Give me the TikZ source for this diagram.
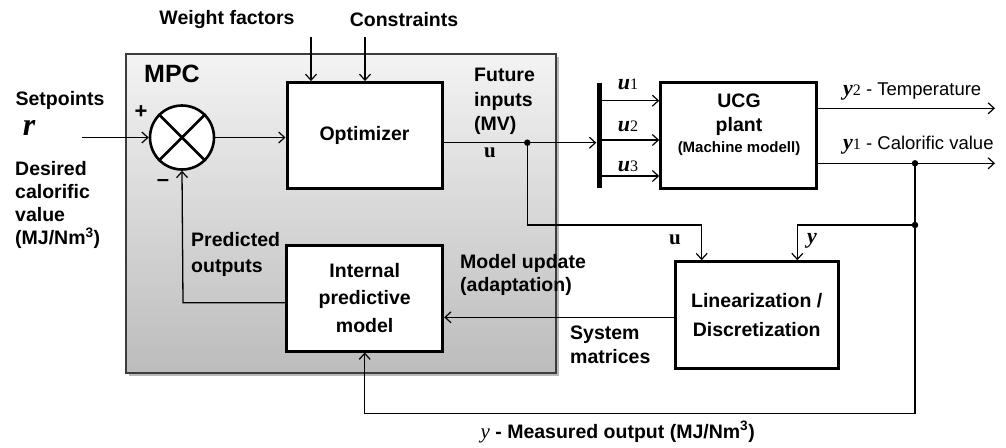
\documentclass[tikz,border=0pt]{standalone}
\usepackage{fontspec}
\setmainfont{Liberation Sans}
\newfontfamily\serifmath{Liberation Serif}
\usetikzlibrary{arrows.meta,calc}

\definecolor{mpctop}{RGB}{243,243,243}
\definecolor{mpcbot}{RGB}{188,188,188}
\definecolor{mpcedge}{RGB}{60,60,60}

\tikzset{
  wire/.style={line width=1.3pt},
  sig/.style={wire,-{Straight Barb[length=6pt,width=11pt,line width=1.2pt]}},
  blockbox/.style={draw,line width=3pt,fill=white,inner sep=0pt},
  txt/.style={font=\bfseries\fontsize{19.5}{24}\selectfont,inner sep=0pt},
  txtl/.style={txt,align=left},
  var/.style={font=\serifmath\bfseries\itshape\fontsize{22}{24}\selectfont,inner sep=0pt},
  varb/.style={font=\serifmath\bfseries\fontsize{21}{24}\selectfont,inner sep=0pt},
  junction/.style={circle,fill,inner sep=0pt,minimum size=6.5pt},
}
\newcommand{\subidx}[1]{{\serifmath\mdseries\upshape\fontsize{16}{16}\selectfont#1}}
\newcommand{\yvar}{{\serifmath\bfseries\itshape\fontsize{22}{24}\selectfont y}}

\begin{document}
\begin{tikzpicture}[x=1pt,y=-1pt]
\useasboundingbox (0,0) rectangle (1006,447);

% MPC frame with a light shadow
\fill[gray!55] (128.5,56.5) rectangle (558.5,375.5);
\draw[mpcedge,line width=1.3pt,top color=mpctop,bottom color=mpcbot] (126,54) rectangle (556,373);
\node[txt,font=\bfseries\fontsize{25}{28}\selectfont] (mpc) at (172,74) {MPC};

% blocks
\node[blockbox,minimum width=155pt,minimum height=105.5pt,
      font=\bfseries\fontsize{19.5}{24}\selectfont] (opt) at (364.5,135.3) {Optimizer};
\node[blockbox,minimum width=156pt,minimum height=106pt,align=center,
      font=\bfseries\fontsize{19.5}{27.5}\selectfont] (ipm) at (364.7,298) {Internal\\predictive\\model};
\node[blockbox,minimum width=156pt,minimum height=105.6pt] (plant) at (738.7,135.5) {};
\node[txt,align=center] (plantlbl) at (739,114.5)
  {UCG\\plant};
\node[txt,font=\bfseries\fontsize{15}{18}\selectfont] (plantsub) at (739,148.3) {(Machine modell)};
\node[blockbox,minimum width=163.3pt,minimum height=106.6pt,align=center,
      font=\bfseries\fontsize{19.5}{28.5}\selectfont] (lin) at (756.7,315) {Linearization /\\Discretization};

% summing junction
\node[circle,draw,line width=2.6pt,fill=white,minimum size=64pt,inner sep=0pt] (sum) at (182,137.5) {};
\draw[line width=2.6pt] (sum.north west) -- (sum.south east);
\draw[line width=2.6pt] (sum.north east) -- (sum.south west);
\node[txt,font=\bfseries\fontsize{22}{24}\selectfont] (plus) at (141,112) {+};
\node[txt,font=\bfseries\fontsize{22}{24}\selectfont] (minus) at (163,183) {\textendash};

% distribution bar
\node[fill=black,minimum width=5pt,minimum height=104.4pt,inner sep=0pt] (bar) at (599,135.5) {};

% inputs from above
\node[txt] (wf) at (227,20) {Weight factors};
\node[txt] (con) at (404,20) {Constraints};
\coordinate (wfend) at (311,37);
\coordinate (conend) at (365,37);
\draw[sig] (wfend) -- (wfend |- opt.north);
\draw[sig] (conend) -- (conend |- opt.north);

% setpoint
\node[txt] (sp) at (60,100) {Setpoints};
\node[font=\serifmath\bfseries\itshape\fontsize{32}{32}\selectfont,inner sep=0pt] (r) at (29,128) {r};
\node[txtl,anchor=west,font=\bfseries\fontsize{19.5}{23.3}\selectfont] (desired) at (15,205)
  {Desired\\calorific\\value\\(MJ/Nm\textsuperscript{3})};
\coordinate (spin) at (82,137.5);
\draw[sig] (spin) -- (sum.west);
\draw[sig] (sum.east) -- (sum.east -| opt.west);

% controller output u
\coordinate (ujoin) at (527.3,142.7);
\draw[sig] (ujoin -| opt.east) -- (ujoin -| bar.west);
\node[junction] (udot) at (ujoin) {};
\node[txtl,anchor=west,font=\bfseries\fontsize{19.5}{24.5}\selectfont] (fut) at (474,101.5)
  {Future\\inputs\\(MV)};
\node[varb] (ulbl) at (490,153) {u};

% manipulated variables into the plant
\coordinate (u1) at (0,100.7);
\coordinate (u2) at (0,140);
\coordinate (u3) at (0,176);
\draw[sig] (u1 -| bar.east) -- (u1 -| plant.west);
\draw[sig] (u2 -| bar.east) -- (u2 -| plant.west);
\draw[sig] (u3 -| bar.east) -- (u3 -| plant.west);
\node[var] (u1lbl) at (628,84) {u\subidx{1}};
\node[var] (u2lbl) at (628,126) {u\subidx{2}};
\node[var] (u3lbl) at (628,166) {u\subidx{3}};

% plant outputs
\coordinate (y2end) at (995,108.3);
\coordinate (y1end) at (995,163.3);
\draw[sig] (plant.east |- y2end) -- (y2end);
\draw[sig] (plant.east |- y1end) -- (y1end);
\node[anchor=west,inner sep=0pt] (y2lbl) at (843,92)
  {\yvar\subidx{2}{\fontsize{18.5}{20}\selectfont\ - Temperature}};
\node[anchor=west,inner sep=0pt] (y1lbl) at (843,145)
  {\yvar\subidx{1}{\fontsize{18.5}{20}\selectfont\ - Calorific value}};

% measured output feedback
\coordinate (ytap) at (915,163.3);
\coordinate (ysplit) at (915,225);
\coordinate (ybottom) at (915,413.3);
\node[junction] (ydot1) at (ytap) {};
\node[junction] (ydot2) at (ysplit) {};
\coordinate (ylin) at (797.3,225);
\draw[wire] (ytap) -- (ybottom) -| (ipm.south);
\draw[sig] (ybottom -| ipm.south) -- (ipm.south);
\draw[sig] (ysplit) -- (ylin) -- (ylin |- lin.north);
\node[var] (ylbl) at (812,241) {y};

% u to the linearization block
\coordinate (ulin) at (701.7,225);
\draw[sig] (udot) |- (ulin) -- (ulin |- lin.north);
\node[varb] (ulbl2) at (675,240) {u};

% system matrices into the internal model
\coordinate (sysm) at (0,317.3);
\draw[sig] (sysm -| lin.west) -- (sysm -| ipm.east);
\node[txtl,anchor=west,font=\bfseries\fontsize{19.5}{23.5}\selectfont] (mu) at (460,275)
  {Model update\\(adaptation)};
\node[txtl,anchor=west,font=\bfseries\fontsize{19.5}{23.5}\selectfont] (sm) at (570,345)
  {System\\matrices};

% predicted outputs back to the junction
\coordinate (pred) at (183,302.7);
\draw[sig] (pred -| ipm.west) -- (pred) -- (sum.south);
\node[txtl,anchor=west,font=\bfseries\fontsize{19.5}{26}\selectfont] (po) at (191,254)
  {Predicted\\outputs};

% caption of the measured output
\node[anchor=east,inner sep=0pt] (meas) at (755,432)
  {{\serifmath\itshape\fontsize{21}{24}\selectfont y}{\bfseries\fontsize{19.5}{24}\selectfont\ - Measured output (MJ/Nm\textsuperscript{3})}};
\end{tikzpicture}
\end{document}
